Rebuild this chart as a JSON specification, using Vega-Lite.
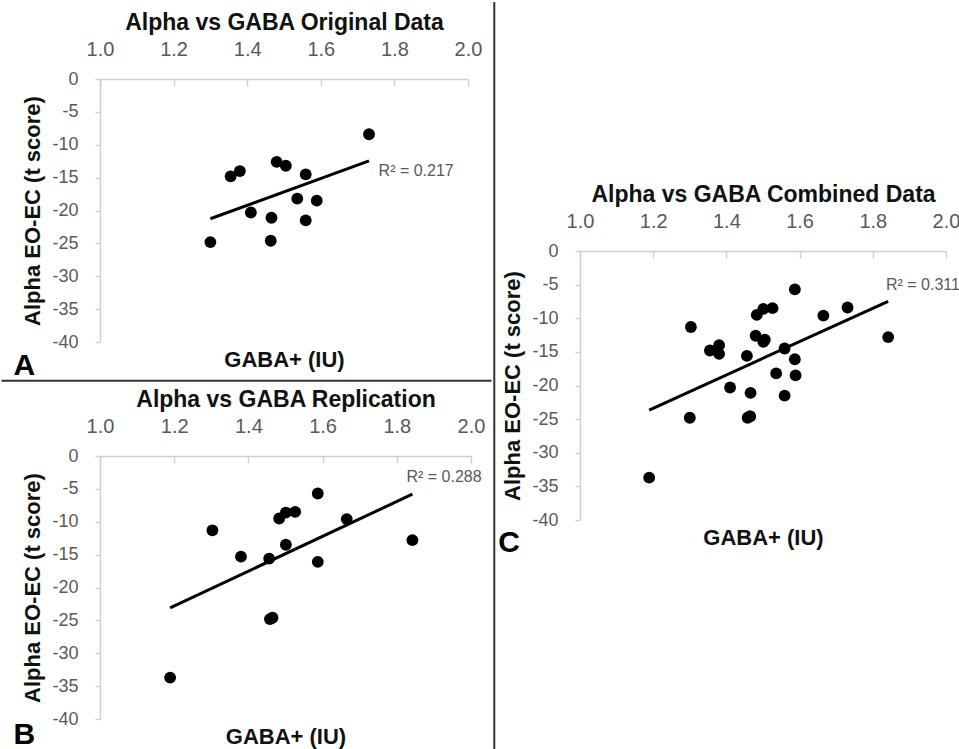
{
  "$schema": "https://vega.github.io/schema/vega-lite/v6.json",
  "padding": 0,
  "autosize": {"type": "pad"},
  "background": "white",
  "config": {
    "view": {"stroke": null},
    "font": "Liberation Sans",
    "axis": {
      "grid": false,
      "labelFont": "Liberation Sans",
      "labelColor": "#595959",
      "domainColor": "#d0d0d0",
      "domainWidth": 1.5,
      "tickColor": "#d0d0d0",
      "tickWidth": 1.5,
      "titleFont": "Liberation Sans",
      "titleFontWeight": "bold",
      "titleColor": "#111111"
    },
    "axisTop": {"labelFontSize": 20, "tickSize": -7, "labelPadding": 27, "titleFontSize": 23, "titlePadding": 5, "labelFlush": false, "labelOverlap": false},
    "axisBottom": {"domain": false, "ticks": false, "labels": false, "titlePadding": 7, "titleFontSize": 22},
    "axisLeft": {"labelFontSize": 18, "tickSize": 5, "labelPadding": 17, "titlePadding": 7, "titleFontSize": 22, "labelOverlap": false, "labelExpr": "replace(datum.label, '−', '-')"}
  },
  "data": {
    "values": [
      {"set": "A", "gaba": 1.300, "alpha": -24.8},
      {"set": "A", "gaba": 1.355, "alpha": -14.8},
      {"set": "A", "gaba": 1.380, "alpha": -14.0},
      {"set": "A", "gaba": 1.410, "alpha": -20.3},
      {"set": "A", "gaba": 1.464, "alpha": -24.6},
      {"set": "A", "gaba": 1.466, "alpha": -21.1},
      {"set": "A", "gaba": 1.480, "alpha": -12.6},
      {"set": "A", "gaba": 1.505, "alpha": -13.2},
      {"set": "A", "gaba": 1.536, "alpha": -18.2},
      {"set": "A", "gaba": 1.559, "alpha": -14.5},
      {"set": "A", "gaba": 1.559, "alpha": -21.5},
      {"set": "A", "gaba": 1.589, "alpha": -18.5},
      {"set": "A", "gaba": 1.731, "alpha": -8.4},
      {"set": "B", "gaba": 1.189, "alpha": -33.7},
      {"set": "B", "gaba": 1.303, "alpha": -11.3},
      {"set": "B", "gaba": 1.380, "alpha": -15.3},
      {"set": "B", "gaba": 1.456, "alpha": -15.6},
      {"set": "B", "gaba": 1.458, "alpha": -24.8},
      {"set": "B", "gaba": 1.465, "alpha": -24.6},
      {"set": "B", "gaba": 1.483, "alpha": -9.5},
      {"set": "B", "gaba": 1.501, "alpha": -8.6},
      {"set": "B", "gaba": 1.526, "alpha": -8.5},
      {"set": "B", "gaba": 1.501, "alpha": -13.5},
      {"set": "B", "gaba": 1.587, "alpha": -5.7},
      {"set": "B", "gaba": 1.587, "alpha": -16.1},
      {"set": "B", "gaba": 1.665, "alpha": -9.6},
      {"set": "B", "gaba": 1.842, "alpha": -12.8}
    ]
  },
  "align": "none",
  "spacing": 0,
  "hconcat": [
    {
      "bounds": "flush",
      "align": "none",
      "spacing": 114,
      "vconcat": [
        {
          "width": 368,
          "height": 263,
          "transform": [{"filter": "datum.set === 'A'"}],
          "resolve": {"axis": {"x": "independent"}},
          "layer": [
            {
              "mark": {"type": "circle", "size": 140, "color": "#000000", "opacity": 1},
              "encoding": {
                "x": {"field": "gaba", "type": "quantitative", "scale": {"domain": [1, 2]},
                      "axis": {"orient": "top", "title": "Alpha vs GABA Original Data", "values": [1, 1.2, 1.4, 1.6, 1.8, 2], "format": ".1f"}},
                "y": {"field": "alpha", "type": "quantitative", "scale": {"domain": [-40, 0]},
                      "axis": {"title": "Alpha EO-EC (t score)", "values": [0, -5, -10, -15, -20, -25, -30, -35, -40]}}
              }
            },
            {
              "transform": [{"regression": "alpha", "on": "gaba"}],
              "mark": {"type": "line", "color": "#000000", "strokeWidth": 3},
              "encoding": {
                "x": {"field": "gaba", "type": "quantitative", "scale": {"domain": [1, 2]}, "axis": {"orient": "bottom", "title": "GABA+ (IU)"}},
                "y": {"field": "alpha", "type": "quantitative", "scale": {"domain": [-40, 0]},
                      "axis": {"title": "Alpha EO-EC (t score)", "values": [0, -5, -10, -15, -20, -25, -30, -35, -40]}}
              }
            },
            {
              "data": {"values": [{}]},
              "mark": {"type": "text", "align": "left", "baseline": "middle", "fontSize": 16, "color": "#595959"},
              "encoding": {
                "x": {"datum": 1.757, "type": "quantitative", "scale": {"domain": [1, 2]}, "axis": null},
                "y": {"datum": -13.95, "type": "quantitative", "scale": {"domain": [-40, 0]},
                      "axis": {"title": "Alpha EO-EC (t score)", "values": [0, -5, -10, -15, -20, -25, -30, -35, -40]}},
                "text": {"value": "R² = 0.217"}
              }
            },
            {
              "data": {"values": [{}]},
              "mark": {"type": "text", "align": "left", "baseline": "alphabetic", "fontSize": 30, "fontWeight": "bold", "color": "#000000"},
              "encoding": {
                "x": {"datum": 0.765, "type": "quantitative", "scale": {"domain": [1, 2]}, "axis": null},
                "y": {"datum": -44.97, "type": "quantitative", "scale": {"domain": [-40, 0]},
                      "axis": {"title": "Alpha EO-EC (t score)", "values": [0, -5, -10, -15, -20, -25, -30, -35, -40]}},
                "text": {"value": "A"}
              }
            },
            {
              "data": {"values": [{}]},
              "mark": {"type": "rule", "color": "#333333", "strokeWidth": 2},
              "encoding": {
                "x": {"datum": 0.7323, "type": "quantitative", "scale": {"domain": [1, 2]}, "axis": null},
                "x2": {"datum": 2.0639},
                "y": {"datum": -45.89, "type": "quantitative", "scale": {"domain": [-40, 0]},
                      "axis": {"title": "Alpha EO-EC (t score)", "values": [0, -5, -10, -15, -20, -25, -30, -35, -40]}}
              }
            }
          ]
        },
        {
          "width": 371,
          "height": 263,
          "transform": [{"filter": "datum.set === 'B'"}],
          "resolve": {"axis": {"x": "independent"}},
          "layer": [
            {
              "mark": {"type": "circle", "size": 140, "color": "#000000", "opacity": 1},
              "encoding": {
                "x": {"field": "gaba", "type": "quantitative", "scale": {"domain": [1, 2]},
                      "axis": {"orient": "top", "title": "Alpha vs GABA Replication", "values": [1, 1.2, 1.4, 1.6, 1.8, 2], "format": ".1f"}},
                "y": {"field": "alpha", "type": "quantitative", "scale": {"domain": [-40, 0]},
                      "axis": {"title": "Alpha EO-EC (t score)", "values": [0, -5, -10, -15, -20, -25, -30, -35, -40]}}
              }
            },
            {
              "transform": [{"regression": "alpha", "on": "gaba"}],
              "mark": {"type": "line", "color": "#000000", "strokeWidth": 3},
              "encoding": {
                "x": {"field": "gaba", "type": "quantitative", "scale": {"domain": [1, 2]}, "axis": {"orient": "bottom", "title": "GABA+ (IU)"}},
                "y": {"field": "alpha", "type": "quantitative", "scale": {"domain": [-40, 0]},
                      "axis": {"title": "Alpha EO-EC (t score)", "values": [0, -5, -10, -15, -20, -25, -30, -35, -40]}}
              }
            },
            {
              "data": {"values": [{}]},
              "mark": {"type": "text", "align": "left", "baseline": "middle", "fontSize": 16, "color": "#595959"},
              "encoding": {
                "x": {"datum": 1.826, "type": "quantitative", "scale": {"domain": [1, 2]}, "axis": null},
                "y": {"datum": -3.24, "type": "quantitative", "scale": {"domain": [-40, 0]},
                      "axis": {"title": "Alpha EO-EC (t score)", "values": [0, -5, -10, -15, -20, -25, -30, -35, -40]}},
                "text": {"value": "R² = 0.288"}
              }
            },
            {
              "data": {"values": [{}]},
              "mark": {"type": "text", "align": "left", "baseline": "alphabetic", "fontSize": 30, "fontWeight": "bold", "color": "#000000"},
              "encoding": {
                "x": {"datum": 0.7668, "type": "quantitative", "scale": {"domain": [1, 2]}, "axis": null},
                "y": {"datum": -43.75, "type": "quantitative", "scale": {"domain": [-40, 0]},
                      "axis": {"title": "Alpha EO-EC (t score)", "values": [0, -5, -10, -15, -20, -25, -30, -35, -40]}},
                "text": {"value": "B"}
              }
            }
          ]
        }
      ]
    },
    {
      "bounds": "flush",
      "align": "none",
      "spacing": 0,
      "vconcat": [
        {
          "width": 366,
          "height": 172,
          "data": {"values": []},
          "mark": {"type": "point", "opacity": 0},
          "encoding": {}
        },
        {
          "width": 366,
          "height": 269,
          "resolve": {"axis": {"x": "independent"}},
          "layer": [
            {
              "mark": {"type": "circle", "size": 140, "color": "#000000", "opacity": 1},
              "encoding": {
                "x": {"field": "gaba", "type": "quantitative", "scale": {"domain": [1, 2]},
                      "axis": {"orient": "top", "title": "Alpha vs GABA Combined Data", "values": [1, 1.2, 1.4, 1.6, 1.8, 2], "format": ".1f"}},
                "y": {"field": "alpha", "type": "quantitative", "scale": {"domain": [-40, 0]},
                      "axis": {"title": "Alpha EO-EC (t score)", "values": [0, -5, -10, -15, -20, -25, -30, -35, -40]}}
              }
            },
            {
              "transform": [{"regression": "alpha", "on": "gaba"}],
              "mark": {"type": "line", "color": "#000000", "strokeWidth": 3},
              "encoding": {
                "x": {"field": "gaba", "type": "quantitative", "scale": {"domain": [1, 2]}, "axis": {"orient": "bottom", "title": "GABA+ (IU)"}},
                "y": {"field": "alpha", "type": "quantitative", "scale": {"domain": [-40, 0]},
                      "axis": {"title": "Alpha EO-EC (t score)", "values": [0, -5, -10, -15, -20, -25, -30, -35, -40]}}
              }
            },
            {
              "data": {"values": [{}]},
              "mark": {"type": "text", "align": "left", "baseline": "middle", "fontSize": 16, "color": "#595959"},
              "encoding": {
                "x": {"datum": 1.836, "type": "quantitative", "scale": {"domain": [1, 2]}, "axis": null},
                "y": {"datum": -5.02, "type": "quantitative", "scale": {"domain": [-40, 0]},
                      "axis": {"title": "Alpha EO-EC (t score)", "values": [0, -5, -10, -15, -20, -25, -30, -35, -40]}},
                "text": {"value": "R² = 0.311"}
              }
            },
            {
              "data": {"values": [{}]},
              "mark": {"type": "text", "align": "left", "baseline": "alphabetic", "fontSize": 30, "fontWeight": "bold", "color": "#000000"},
              "encoding": {
                "x": {"datum": 0.7768, "type": "quantitative", "scale": {"domain": [1, 2]}, "axis": null},
                "y": {"datum": -44.76, "type": "quantitative", "scale": {"domain": [-40, 0]},
                      "axis": {"title": "Alpha EO-EC (t score)", "values": [0, -5, -10, -15, -20, -25, -30, -35, -40]}},
                "text": {"value": "C"}
              }
            },
            {
              "data": {"values": [{}]},
              "mark": {"type": "rule", "color": "#333333", "strokeWidth": 2},
              "encoding": {
                "x": {"datum": 0.7658, "type": "quantitative", "scale": {"domain": [1, 2]}, "axis": null},
                "y": {"datum": 37.03, "type": "quantitative", "scale": {"domain": [-40, 0]},
                      "axis": {"title": "Alpha EO-EC (t score)", "values": [0, -5, -10, -15, -20, -25, -30, -35, -40]}},
                "y2": {"datum": -74.35}
              }
            }
          ]
        }
      ]
    }
  ]
}
